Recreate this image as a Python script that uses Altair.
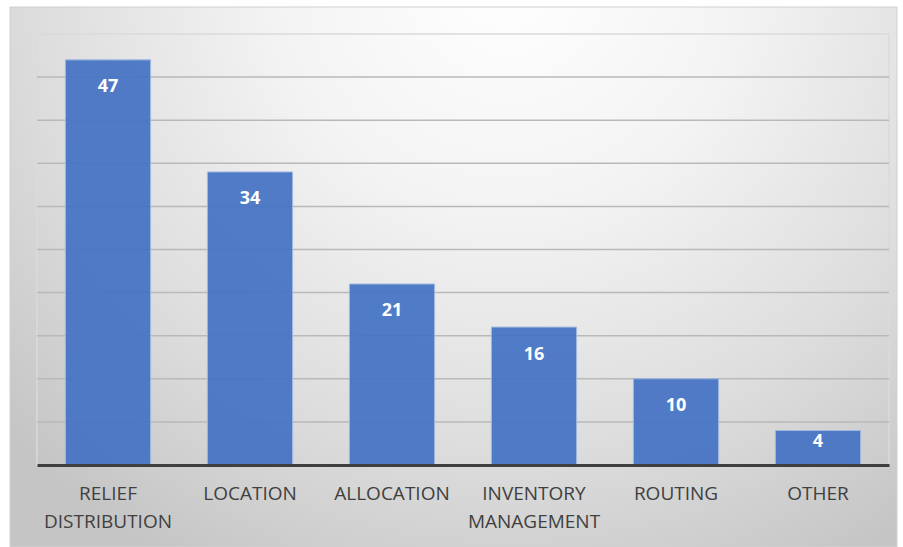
import altair as alt
import pandas as pd

categories = ["RELIEF DISTRIBUTION", "LOCATION", "ALLOCATION",
              "INVENTORY MANAGEMENT", "ROUTING", "OTHER"]
counts = [47, 34, 21, 16, 10, 4]
grid_values = [5, 10, 15, 20, 25, 30, 35, 40, 45]
y_max = 50

df = pd.DataFrame({"category": categories, "count": counts})
grid_df = pd.DataFrame({"v": grid_values})
one = pd.DataFrame({"a": [0]})

W, H = 852, 431
yscale = alt.Scale(domain=[0, y_max], nice=False)

bg = alt.Chart(one).mark_rect(
    fill=alt.Gradient(
        gradient="radial", x1=0.56, y1=0.16, r1=0, x2=0.56, y2=0.16, r2=0.76,
        stops=[
            alt.GradientStop(offset=0, color="#ffffff"),
            alt.GradientStop(offset=0.35, color="#f3f3f3"),
            alt.GradientStop(offset=0.7, color="#dddddd"),
            alt.GradientStop(offset=1, color="#c5c5c5"),
        ],
    ),
    stroke="#d0d0d0", strokeWidth=1,
).encode(x=alt.value(-27), x2=alt.value(860), y=alt.value(-27), y2=alt.value(513))

border = alt.Chart(one).mark_rect(
    fillOpacity=0, stroke="#dadada", strokeWidth=1.5
).encode(x=alt.value(0), x2=alt.value(W), y=alt.value(0), y2=alt.value(H))

grid = alt.Chart(grid_df).mark_rule(color="#b9b9b9", strokeWidth=1.5).encode(
    y=alt.Y("v:Q", scale=yscale, axis=None),
    x=alt.value(0), x2=alt.value(W),
)

xenc = alt.X(
    "category:N", sort=categories,
    scale=alt.Scale(paddingInner=0.4, paddingOuter=0.2),
    axis=alt.Axis(
        title=None, ticks=False, labelAngle=0, domainColor="#3f3f3f", domainWidth=3,
        labelFont="Open Sans", labelFontSize=19, labelColor="#404040",
        labelPadding=19, labelLineHeight=28, labelExpr="split(datum.label, ' ')",
        zindex=1, grid=False,
    ),
)

bars = alt.Chart(df).mark_bar(
    color="#4472c4", opacity=0.92, stroke="#9db7e3", strokeWidth=1
).encode(
    x=xenc,
    y=alt.Y("count:Q", scale=yscale, axis=None),
)

text_style = dict(color="white", fontWeight="bold", fontSize=18, font="Open Sans",
                  baseline="middle")
text_enc = dict(
    x=alt.X("category:N", sort=categories),
    y=alt.Y("count:Q", scale=yscale, axis=None),
    text="count:Q",
)

labels_tall = alt.Chart(df).transform_filter("datum.count >= 5").mark_text(
    dy=27.5, **text_style).encode(**text_enc)
labels_short = alt.Chart(df).transform_filter("datum.count < 5").mark_text(
    dy=11.5, **text_style).encode(**text_enc)

chart = alt.layer(bg, border, grid, bars, labels_tall, labels_short).properties(
    width=W, height=H,
    padding={"left": 37, "top": 34, "right": 14, "bottom": 82},
    autosize=alt.AutoSizeParams(type="none"),
    background="white",
).configure_view(strokeWidth=0)

chart.save("out.html", embed_options={"renderer": "svg", "actions": False})
